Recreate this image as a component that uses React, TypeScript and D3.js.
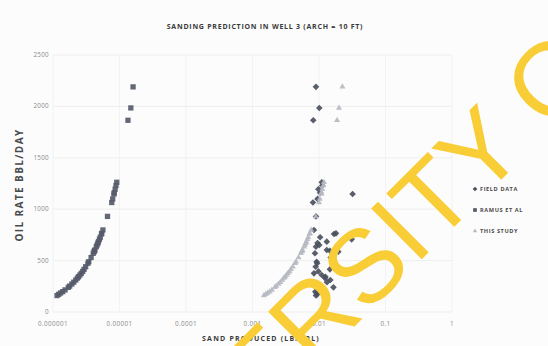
import React from "react";
import * as d3 from "d3";

// Oil rates (bbl/day) at which each sand-production value is reported
const rates = [
  160, 172, 185, 198, 215, 240, 252, 272, 290, 311, 330, 343, 360, 376, 395,
  415, 440, 474, 489, 530, 571, 587, 596, 603, 635, 652, 670, 684, 707, 727,
  759, 765, 798, 930, 1065, 1100, 1148, 1160, 1195, 1230, 1262, 1865, 1985, 2190,
];

// Measured sand produced (lb/bbl)
const fieldSand = [
  0.009, 0.0094, 0.0092, 0.0088, 0.0102, 0.0165, 0.0101, 0.0094, 0.0132, 0.0148,
  0.0123, 0.0125, 0.011, 0.0084, 0.0098, 0.0146, 0.0089, 0.0094, 0.0092, 0.015,
  0.0087, 0.0195, 0.0146, 0.0131, 0.009, 0.0101, 0.0095, 0.0131, 0.031, 0.0104,
  0.0168, 0.018, 0.0084, 0.009, 0.0081, 0.0095, 0.032, 0.0104, 0.0098, 0.0112,
  0.011, 0.0082, 0.0101, 0.009,
];

// Ramus et al. prediction (lb/bbl)
const ramusSand = [
  1.15e-6, 1.22e-6, 1.3e-6, 1.4e-6, 1.52e-6, 1.7e-6, 1.78e-6, 1.92e-6, 2.05e-6,
  2.2e-6, 2.33e-6, 2.42e-6, 2.54e-6, 2.66e-6, 2.8e-6, 2.93e-6, 3.1e-6, 3.35e-6,
  3.45e-6, 3.74e-6, 4.03e-6, 4.15e-6, 4.21e-6, 4.26e-6, 4.48e-6, 4.6e-6, 4.73e-6,
  4.83e-6, 4.99e-6, 5.13e-6, 5.36e-6, 5.4e-6, 5.63e-6, 6.6e-6, 7.65e-6, 7.9e-6,
  8.25e-6, 8.33e-6, 8.6e-6, 8.85e-6, 9.1e-6, 1.34e-5, 1.48e-5, 1.6e-5,
];

// Prediction of this study (lb/bbl)
const thisStudySand = [
  0.00148, 0.00158, 0.00169, 0.00181, 0.00196, 0.00217, 0.00228, 0.00246, 0.00262,
  0.00281, 0.00298, 0.0031, 0.00326, 0.00341, 0.0036, 0.00379, 0.00404, 0.00437,
  0.00452, 0.00492, 0.00533, 0.00549, 0.00558, 0.00565, 0.00597, 0.00614, 0.00632,
  0.00646, 0.0067, 0.0069, 0.00722, 0.00728, 0.00762, 0.0089, 0.01, 0.0103, 0.0108,
  0.0109, 0.0112, 0.0116, 0.0119, 0.0187, 0.02, 0.0225,
];

const xTicks = [1e-6, 1e-5, 1e-4, 1e-3, 1e-2, 1e-1, 1];
const xTickLabels = ["0.000001", "0.00001", "0.0001", "0.001", "0.01", "0.1", "1"];
const yTicks = [0, 500, 1000, 1500, 2000, 2500];
const seriesNames = ["FIELD DATA", "RAMUS ET AL", "THIS STUDY"];

const W = 548;
const H = 346;
const FIELD_COLOR = "#4b505e";
const RAMUS_COLOR = "#565b6a";
const STUDY_COLOR = "#b7bac2";

export default function App() {
  const x = d3.scaleLog().domain([1e-6, 1]).range([53, 452]);
  const y = d3.scaleLinear().domain([0, 2500]).range([312, 55]);

  const diamond = d3.symbol().type(d3.symbolDiamond2).size(28)();
  const square = d3.symbol().type(d3.symbolSquare).size(28)();
  const triangle = d3.symbol().type(d3.symbolTriangle).size(16)();

  const markers = [
    { path: diamond, color: FIELD_COLOR, values: fieldSand },
    { path: square, color: RAMUS_COLOR, values: ramusSand },
    { path: triangle, color: STUDY_COLOR, values: thisStudySand },
  ];

  const font = "'Open Sans', 'DejaVu Sans', sans-serif";

  return (
    <svg
      width={W}
      height={H}
      style={{ position: "absolute", left: 0, top: 0, background: "#fcfcfc" }}
      fontFamily={font}
    >
      <rect x={0} y={0} width={W} height={H} fill="#fcfcfc" />

      {/* gridlines */}
      {yTicks.map((t) => (
        <line key={"gy" + t} x1={x.range()[0]} x2={x.range()[1]} y1={y(t)} y2={y(t)} stroke="#ebebeb" strokeWidth={0.8} />
      ))}
      {xTicks.map((t) => (
        <line key={"gx" + t} x1={x(t)} x2={x(t)} y1={y(0)} y2={y(2500)} stroke="#f0f0f0" strokeWidth={0.8} />
      ))}

      {/* tick labels */}
      {yTicks.map((t) => (
        <text key={"ty" + t} x={49} y={y(t) + 2} fontSize={6.3} fill="#8a8a8a" textAnchor="end" letterSpacing={0.3}>
          {t}
        </text>
      ))}
      {xTicks.map((t, i) => (
        <text key={"tx" + t} x={x(t)} y={326} fontSize={6.3} fill="#8a8a8a" textAnchor="middle" letterSpacing={0.4}>
          {xTickLabels[i]}
        </text>
      ))}

      {/* series */}
      {markers.map((m, si) =>
        m.values.map((v, i) => (
          <path
            key={si + "-" + i}
            d={m.path as string}
            transform={`translate(${x(v)},${y(rates[i])})`}
            fill={m.color}
            opacity={0.92}
          />
        ))
      )}

      {/* titles */}
      <text x={265} y={29} fontSize={7} fontWeight="bold" fill="#3a3a3a" textAnchor="middle" letterSpacing={0.75}>
        SANDING PREDICTION IN WELL 3 (ARCH = 10 FT)
      </text>
      <text x={261} y={341} fontSize={7} fontWeight="bold" fill="#3a3a3a" textAnchor="middle" letterSpacing={1.2}>
        SAND PRODUCED (LB/BBL)
      </text>
      <text
        transform={`translate(23,185) rotate(-90)`}
        fontSize={10}
        fontWeight="bold"
        fill="#4a4a4a"
        textAnchor="middle"
        letterSpacing={1.4}
      >
        OIL  RATE  BBL/DAY
      </text>

      {/* legend */}
      {seriesNames.map((name, i) => (
        <g key={name} transform={`translate(475,${189 + i * 21})`}>
          <path d={markers[i].path as string} transform="scale(0.7)" fill={markers[i].color} />
          <text x={5} y={2.2} fontSize={5.6} fontWeight="bold" fill="#4a4a4a" letterSpacing={0.6}>
            {name}
          </text>
        </g>
      ))}

      {/* watermark */}
      <text
        transform="translate(88,593) rotate(-45)"
        fontFamily="'Liberation Sans', Arial, sans-serif"
        fontSize={104}
        fill="#f9cd35"
      >
        UNIVERSITY OF CAPE COAST
      </text>
    </svg>
  );
}
